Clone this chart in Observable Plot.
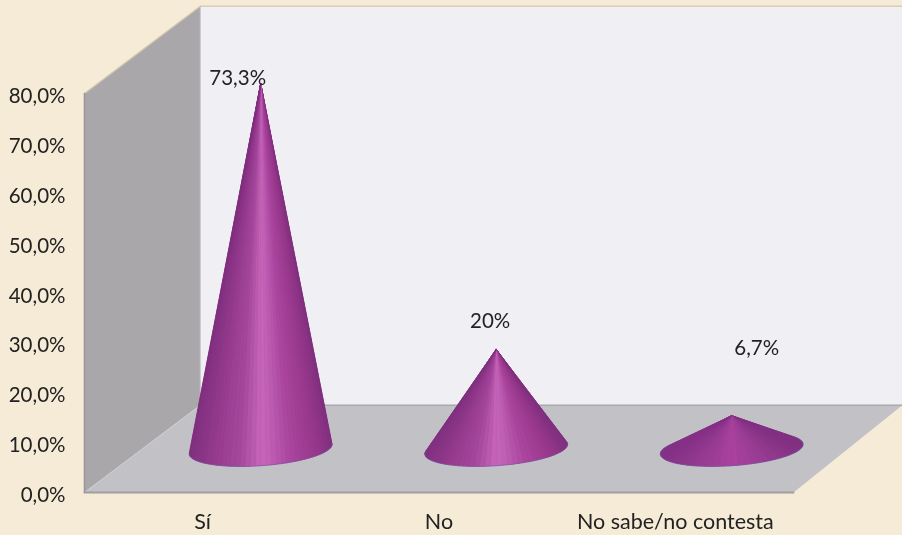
<!DOCTYPE html>
<html>
<head>
<meta charset="utf-8">
<script src="https://cdn.jsdelivr.net/npm/d3@7"></script>
<script src="https://cdn.jsdelivr.net/npm/@observablehq/plot@0.6"></script>
<style>
  html, body { margin: 0; padding: 0; background: #f5ebd6; }
  svg { display: block; filter: blur(0.6px); }
</style>
</head>
<body>
<div id="chart"></div>
<script>
// Data
const categories = ["Sí", "No", "No sabe/no contesta"];
const values = [73.3, 20, 6.7];
const valueLabels = ["73,3%", "20%", "6,7%"];
const yTicks = [0, 10, 20, 30, 40, 50, 60, 70, 80];

// Pseudo-3D layout, in scale units
const xDomain = [-0.5, 2.5];
const yDomain = [0, 80];
const depthY = 17.5;
const depthLeft = 0.49;
const depthRight = 0.461;
const coneShiftX = 0.2455;
const coneSpacing = 0.9965;
const coneShiftY = 8.7;
const labelOffsets = [[-23, -5], [-6, -28], [25, -67]];

// Conjugate radii of the tilted base ellipse (x units, y units)
const u = [0.302, 0.9];
const v = [-0.0058, -3.35];

const bright = d3.scaleLinear()
  .domain([0, .15, .35, .5, .56, .7, .9, 1])
  .range(["#80307f", "#93398c", "#a5489d", "#c766ba", "#bf60b5", "#ab469f", "#95378a", "#80307f"]);
const dim = d3.scaleLinear()
  .domain([0, .3, .5, .7, 1])
  .range(["#833085", "#983b93", "#aa42a0", "#9a3d94", "#803081"]);

function coneParts(value, i) {
  const C = [i * coneSpacing + coneShiftX, coneShiftY];
  const A = [C[0], value + coneShiftY];
  const det = u[0] * v[1] - u[1] * v[0];
  const ax = A[0] - C[0], ay = A[1] - C[1];
  const p = (ax * v[1] - ay * v[0]) / det;
  const q = (u[0] * ay - u[1] * ax) / det;
  const phi = Math.atan2(q, p);
  const delta = Math.acos(1 / Math.hypot(p, q));
  const t1 = phi + delta, t2 = phi - delta + 2 * Math.PI;
  const at = t => [C[0] + u[0] * Math.cos(t) + v[0] * Math.sin(t),
                   C[1] + u[1] * Math.cos(t) + v[1] * Math.sin(t)];
  const shade = value < 10 ? dim : bright;
  const n = 44;
  const sectors = [], rim = [];
  for (let k = 0; k < n; k++) {
    const a = t1 + (t2 - t1) * k / n, b = t1 + (t2 - t1) * (k + 1) / n;
    const Pa = at(a), Pb = at(b);
    const f = Math.min(1, Math.max(0, ((Pa[0] + Pb[0]) / 2 - C[0]) / u[0] / 2 + .5));
    const color = shade(f), z = `${i}-${k}`;
    sectors.push({x: A[0], y: A[1], z, color}, {x: Pa[0], y: Pa[1], z, color}, {x: Pb[0], y: Pb[1], z, color});
    rim.push({x: Pa[0], y: Pa[1], cone: i});
    if (k === n - 1) rim.push({x: Pb[0], y: Pb[1], cone: i});
  }
  const apex = {x: A[0], y: A[1], cone: i};
  return {sectors, rim, outline: [apex, ...rim]};
}
const parts = values.map(coneParts);

const [x0, x1] = xDomain, [y0, y1] = yDomain;
const backWall = [[x0 + depthLeft, depthY], [x0 + depthLeft, y1 + depthY], [x1 + depthRight, y1 + depthY], [x1 + depthRight, depthY]];
const leftWall = [[x0, y0], [x0, y1], [x0 + depthLeft, y1 + depthY], [x0 + depthLeft, depthY]];
const floor = [[x0, y0], [x0 + depthLeft, depthY], [x1 + depthRight, depthY], [x1, y0]];
const poly = (pts, fill) => Plot.line(pts, {x: d => d[0], y: d => d[1], fill, stroke: "none", curve: "linear-closed"});
const seg = (pts, stroke, strokeWidth) => Plot.line(pts, {x: d => d[0], y: d => d[1], stroke, strokeWidth});

const chart = Plot.plot({
  width: 902,
  height: 535,
  marginLeft: 84,
  marginRight: 109,
  marginTop: 93,
  marginBottom: 43,
  style: {background: "none", fontFamily: "Lato", color: "#222", overflow: "hidden"},
  x: {domain: xDomain},
  y: {domain: yDomain},
  color: {type: "identity"},
  marks: [
    poly(backWall, "#f0eff4"),
    poly(leftWall, "#a9a7aa"),
    poly(floor, "#c2c1c6"),
    seg([backWall[1], backWall[2]], "#d9ceb4", 1.5),
    seg([leftWall[1], leftWall[2]], "#d2c8b0", 1.2),
    seg([backWall[0], backWall[1]], "#c9c8cc", 1),
    seg([floor[1], floor[2]], "#a9a8ac", 1.6),
    seg([floor[0], floor[1]], "#cfcdd2", 1),
    seg([leftWall[0], leftWall[1]], "#99979b", 1.6),
    seg([floor[0], floor[3]], "#9f9ea2", 2),
    ...parts.map(p => Plot.line(p.outline, {x: "x", y: "y", fill: "#9a3f95", stroke: "none", curve: "linear-closed"})),
    ...parts.map(p => Plot.line(p.sectors, {x: "x", y: "y", z: "z", fill: "color", stroke: "color", strokeWidth: 0.5, strokeLinejoin: "round", curve: "linear-closed"})),
    ...parts.map(p => Plot.line(p.rim, {x: "x", y: "y", stroke: "#6f5aa0", strokeWidth: 1, strokeOpacity: 0.55})),
    Plot.axisY({ticks: yTicks, tickSize: 0, tickPadding: 19, label: null, tickFormat: d => d.toFixed(1).replace(".", ",") + "%", fontSize: 20.5, fill: "#222", dy: 3}),
    Plot.axisX({ticks: [0, 1, 2], tickSize: 0, tickPadding: 18, label: null, tickFormat: d => categories[d], fontSize: 21.5, fill: "#222", dy: 3}),
    ...values.map((value, i) => Plot.text([value], {
      x: () => i * coneSpacing + coneShiftX,
      y: d => d + coneShiftY,
      text: () => valueLabels[i],
      dx: labelOffsets[i][0],
      dy: labelOffsets[i][1],
      fontSize: 20.5,
      fill: "#222"
    }))
  ]
});
document.getElementById("chart").append(chart);
</script>
</body>
</html>
